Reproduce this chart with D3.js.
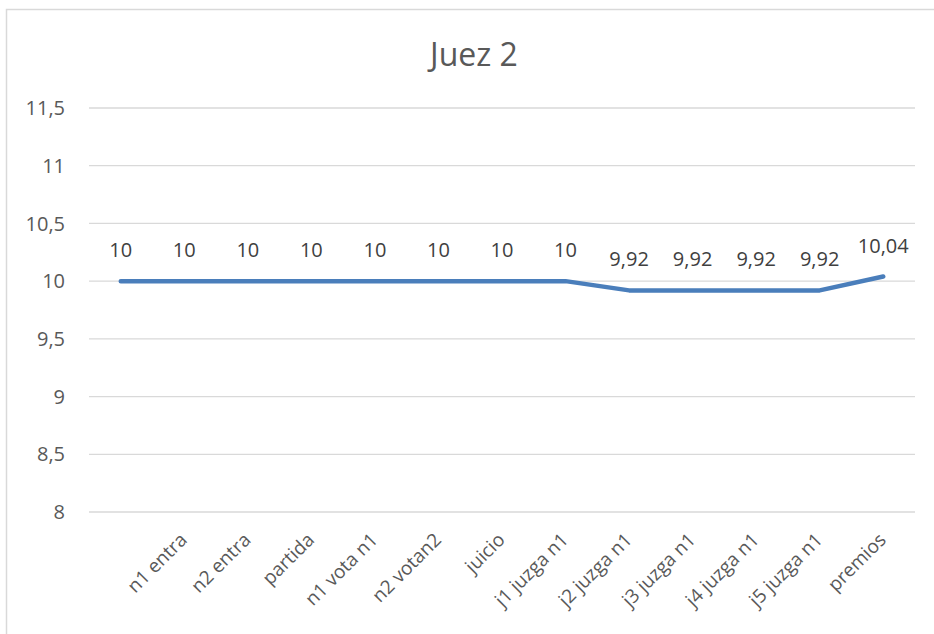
<!DOCTYPE html>
<html>
<head>
<meta charset="utf-8">
<script src="https://cdn.jsdelivr.net/npm/d3@7"></script>
<style>
  body { margin: 0; background: #fff; }
  text { font-family: "Open Sans", "Liberation Sans", sans-serif; }
</style>
</head>
<body>
<script>
const categories = ["", "n1 entra", "n2 entra", "partida", "n1 vota n1", "n2 votan2", "juicio",
  "j1 juzga n1", "j2 juzga n1", "j3 juzga n1", "j4 juzga n1", "j5 juzga n1", "premios"];
const values = [10, 10, 10, 10, 10, 10, 10, 10, 9.92, 9.92, 9.92, 9.92, 10.04];
const yTicks = [8, 8.5, 9, 9.5, 10, 10.5, 11, 11.5];

const width = 934, height = 634;
const fmt = v => String(v).replace(".", ",");

const svg = d3.select("body").append("svg")
  .attr("width", width)
  .attr("height", height);

// chart border
svg.append("rect")
  .attr("x", 6.5).attr("y", 9.5)
  .attr("width", width + 10).attr("height", height + 10)
  .attr("fill", "none")
  .attr("stroke", "#d9d9d9")
  .attr("stroke-width", 1.5);

const x = d3.scaleBand()
  .domain(d3.range(categories.length))
  .range([89, 915]);

const y = d3.scaleLinear()
  .domain([8, 11.5])
  .range([512, 108]);

// title
svg.append("text")
  .attr("x", 474).attr("y", 66)
  .attr("text-anchor", "middle")
  .attr("fill", "#595959")
  .style("font-size", "32px")
  .text("Juez 2");

// gridlines
svg.append("g").selectAll("line")
  .data(yTicks)
  .join("line")
  .attr("x1", 89).attr("x2", 915)
  .attr("y1", d => y(d)).attr("y2", d => y(d))
  .attr("stroke", "#d9d9d9")
  .attr("stroke-width", 1.3);

// y labels
svg.append("g").selectAll("text")
  .data(yTicks)
  .join("text")
  .attr("x", 65)
  .attr("y", d => y(d))
  .attr("dy", "0.36em")
  .attr("text-anchor", "end")
  .attr("fill", "#595959")
  .style("font-size", "20px")
  .text(fmt);

// x labels
svg.append("g").selectAll("text")
  .data(categories)
  .join("text")
  .attr("transform", (d, i) => `translate(${x(i) + x.bandwidth() / 2 + 4},${541}) rotate(-45)`)
  .attr("text-anchor", "end")
  .attr("fill", "#595959")
  .style("font-size", "19px")
  .text(d => d);

// line
const line = d3.line()
  .x((d, i) => x(i) + x.bandwidth() / 2)
  .y(d => y(d));

svg.append("path")
  .datum(values)
  .attr("d", line)
  .attr("fill", "none")
  .attr("stroke", "#4a7ebb")
  .attr("stroke-width", 4.5)
  .attr("stroke-linecap", "round")
  .attr("stroke-linejoin", "round");

// data labels
svg.append("g").selectAll("text")
  .data(values)
  .join("text")
  .attr("x", (d, i) => x(i) + x.bandwidth() / 2)
  .attr("y", d => y(d) - 24)
  .attr("text-anchor", "middle")
  .attr("fill", "#404040")
  .style("font-size", "20px")
  .text(fmt);
</script>
</body>
</html>
